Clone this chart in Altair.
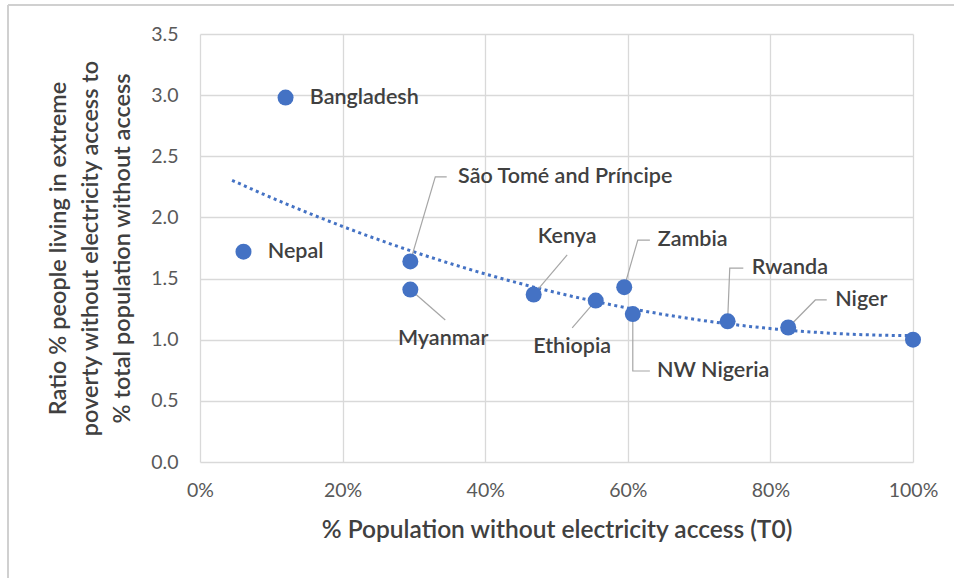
import altair as alt
import pandas as pd

# ---- data -------------------------------------------------------------
countries = ["Bangladesh", "Nepal", "São Tomé and Príncipe", "Myanmar", "Kenya",
             "Ethiopia", "Zambia", "NW Nigeria", "Rwanda", "Niger", "All"]
no_access_share = [0.120, 0.061, 0.295, 0.295, 0.468, 0.555, 0.595, 0.607, 0.740, 0.825, 1.000]
poverty_ratio = [2.98, 1.72, 1.64, 1.41, 1.37, 1.32, 1.43, 1.21, 1.15, 1.10, 1.00]

# ---- annotation layout (data units) -----------------------------------
# label anchor for each named point
label_names = ["Bangladesh", "Nepal", "São Tomé and Príncipe", "Zambia", "Rwanda",
               "Niger", "NW Nigeria", "Kenya", "Ethiopia", "Myanmar"]
label_x = [0.154, 0.095, 0.362, 0.642, 0.774, 0.891, 0.641, 0.515, 0.522, 0.341]
label_y = [2.977, 1.717, 2.331, 1.815, 1.586, 1.325, 0.744, 1.840, 0.940, 1.006]
label_align = ["left", "left", "left", "left", "left", "left", "left",
               "center", "center", "center"]

# leader-line bends and ends, starting from the point itself
leader_path = {
    "São Tomé and Príncipe": [(0.330, 2.331), (0.346, 2.331)],
    "Zambia": [(0.614, 1.815), (0.631, 1.815)],
    "Rwanda": [(0.743, 1.586), (0.762, 1.586)],
    "Niger": [(0.863, 1.325), (0.879, 1.325)],
    "NW Nigeria": [(0.607, 0.744), (0.631, 0.744)],
    "Kenya": [(0.515, 1.693)],
    "Ethiopia": [(0.522, 1.096)],
    "Myanmar": [(0.344, 1.161)],
}

points = pd.DataFrame({"country": countries, "share": no_access_share,
                       "ratio": poverty_ratio})

lookup = dict(zip(countries, zip(no_access_share, poverty_ratio)))
leader_rows = []
for name, path in leader_path.items():
    for i, (px, py) in enumerate([lookup[name]] + path):
        leader_rows.append({"country": name, "seq": i, "share": px, "ratio": py})
leaders = pd.DataFrame(leader_rows)

labels = pd.DataFrame({"country": label_names, "share": label_x,
                       "ratio": label_y, "align": label_align})

BLUE = "#4472C4"
FONT = "Lato"
TEXT = "#404040"
GRID = "#d9d9d9"

x_scale = alt.Scale(domain=[0, 1])
y_scale = alt.Scale(domain=[0, 3.5])

x_enc = alt.X(
    "share:Q", scale=x_scale,
    axis=alt.Axis(values=[0, 0.2, 0.4, 0.6, 0.8, 1.0], format=".0%",
                  title="% Population without electricity access (T0)",
                  titleY=68, titleBaseline="middle", titleFontSize=24.5,
                  labelPadding=19, labelFlush=False, grid=True, domain=False,
                  ticks=False))
y_enc = alt.Y(
    "ratio:Q", scale=y_scale,
    axis=alt.Axis(values=[0, 0.5, 1, 1.5, 2, 2.5, 3, 3.5], format=".1f",
                  title=["Ratio % people living in extreme",
                         "poverty without electricity access to",
                         "% total population without access"],
                  titleAngle=-90, titleX=-154, titleY=214, titleAlign="center",
                  titleBaseline="top", titleLineHeight=32, titleFontSize=23.5,
                  labelPadding=22, labelFlush=False, grid=True, domain=False,
                  ticks=False))

base = alt.Chart(points)

# outer frame of the chart area
frame_left = alt.Chart(points).mark_rule(color="#d0d0d0", strokeWidth=2).encode(
    x=alt.value(-192), y=alt.value(-29), y2=alt.value(560))
frame_top = alt.Chart(points).mark_rule(color="#d0d0d0", strokeWidth=2).encode(
    x=alt.value(-192), x2=alt.value(760), y=alt.value(-29))

trend = base.transform_regression(
    "share", "ratio", method="poly", order=2, extent=[0.045, 1.0]
).mark_line(color=BLUE, strokeWidth=3, strokeDash=[3, 3.5], strokeCap="butt").encode(
    x=x_enc, y=y_enc)

leader_lines = alt.Chart(leaders).mark_line(color="#a6a6a6", strokeWidth=1.2).encode(
    x="share:Q", y="ratio:Q", detail="country:N", order="seq:Q")

dots = base.mark_point(filled=True, shape="circle", size=256, color=BLUE, opacity=1).encode(
    x="share:Q", y="ratio:Q")

text_style = dict(baseline="middle", font=FONT, fontSize=21.5, fontWeight=600, color=TEXT)
text_left = alt.Chart(labels).transform_filter(alt.datum.align == "left").mark_text(
    align="left", **text_style).encode(
    x="share:Q", y="ratio:Q", text="country:N")
text_center = alt.Chart(labels).transform_filter(alt.datum.align == "center").mark_text(
    align="center", **text_style).encode(
    x="share:Q", y="ratio:Q", text="country:N")

chart = alt.layer(
    trend, frame_left, frame_top, leader_lines, dots, text_left, text_center
).properties(
    width=713, height=428,
    autosize=alt.AutoSizeParams(type="none"),
    padding={"left": 200, "top": 34, "right": 41, "bottom": 116},
    background="white",
).configure_axis(
    labelFont=FONT, labelFontSize=19.5, labelColor="#595959",
    titleFont=FONT, titleColor=TEXT, titleFontWeight=600,
    gridColor=GRID, gridWidth=1.3,
).configure_view(strokeWidth=0)

chart.save("out.html", embed_options={"renderer": "svg", "actions": False})
